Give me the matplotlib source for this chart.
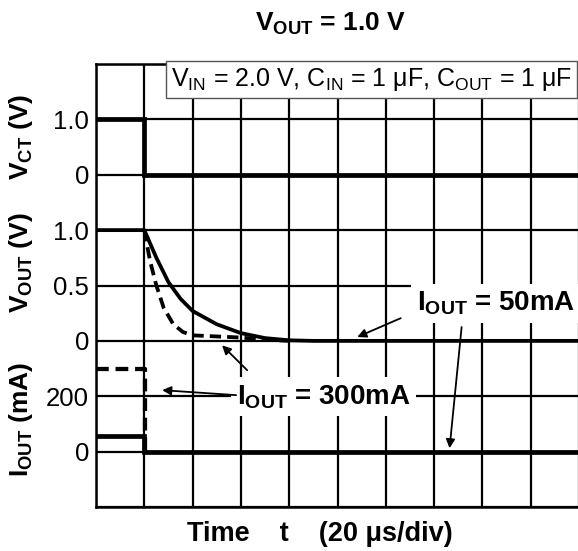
import matplotlib
matplotlib.use("Agg")
import matplotlib.pyplot as plt

plt.rcParams.update({
    "font.family": ["Liberation Sans", "DejaVu Sans"],
    "mathtext.fontset": "custom",
    "mathtext.rm": "Liberation Sans",
    "mathtext.it": "Liberation Sans:italic",
    "mathtext.bf": "Liberation Sans:bold",
    "font.size": 19,
})

# ---- data (time in divisions of 20 us) ----
vct_t = [0, 1, 1, 10]
vct_v = [1.0, 1.0, 0.0, 0.0]

vout50_t = [0, 1.0, 1.1, 1.25, 1.5, 1.75, 2.0, 2.5, 3.0, 3.5, 4.0, 4.5, 10]
vout50_v = [1.0, 1.0, 0.90, 0.75, 0.53, 0.38, 0.27, 0.15, 0.07, 0.025, 0.005, 0.0, 0.0]

vout300_t = [1.0, 1.05, 1.12, 1.25, 1.4, 1.6, 1.8, 2.0, 2.5, 3.0, 3.5, 4.0]
vout300_v = [1.0, 0.88, 0.72, 0.50, 0.30, 0.15, 0.08, 0.05, 0.04, 0.03, 0.01, 0.0]

iout50_t = [0, 1, 1, 10]
iout50_i = [55, 55, 0, 0]
iout300_t = [0, 1.02, 1.02]
iout300_i = [300, 300, 0]

vct_ticks = [1.0, 0]
vout_ticks = [1.0, 0.5, 0]
iout_ticks = [200, 0]


# each trace gets its own band of rows on one shared grid
def y_vct(v): return [6 + a for a in v]
def y_vout(v): return [3 + 2 * a for a in v]
def y_iout(i): return [1 + a / 200 for a in i]


fig = plt.figure(figsize=(5.78, 5.51), dpi=100)
ax = fig.add_axes([96 / 578, 1 - 507 / 551, 483 / 578, 443 / 551])
ax.set_xlim(0, 10)
ax.set_ylim(0, 8)

ax.set_xticks(range(11))
ax.set_xticklabels([])
ytk = y_vct(vct_ticks) + y_vout(vout_ticks) + y_iout(iout_ticks)
ylb = ["1.0", "0", "1.0", "0.5", "0", "200", "0"]
ax.set_yticks(ytk)
ax.set_yticklabels(ylb)
ax.set_yticks(range(9), minor=True)
ax.tick_params(which="both", length=0, pad=5, labelsize=18.5)
ax.grid(True, which="both", color="k", lw=1.6)
ax.set_axisbelow(True)
for s in ax.spines.values():
    s.set_linewidth(1.8)

lw = 3.4
ax.plot(vct_t, y_vct(vct_v), color="k", lw=lw, solid_joinstyle="miter", zorder=3)
ax.plot(vout50_t, y_vout(vout50_v), color="k", lw=lw * 0.8, zorder=3)
ax.plot(vout300_t, y_vout(vout300_v), color="k", lw=lw * 0.8, ls=(0, (3, 1.6)), zorder=3)
ax.plot(iout50_t, y_iout(iout50_i), color="k", lw=lw, solid_joinstyle="miter", zorder=3)
ax.plot(iout300_t, y_iout(iout300_i), color="k", lw=lw * 0.9, ls=(0, (3, 1.6)), zorder=3)

# labels with white boxes over the grid
box = dict(facecolor="white", edgecolor="none", pad=4)
ax.text(8.28, 3.68, r"I$_{\mathbf{OUT}}$ = 50mA", ha="center", va="center",
        fontsize=20, fontweight="bold", bbox=box, zorder=4)
ax.text(4.71, 1.99, r"I$_{\mathbf{OUT}}$ = 300mA", ha="center", va="center",
        fontsize=20, fontweight="bold", bbox=box, zorder=4)

arr = dict(arrowstyle="-|>", color="k", lw=1.3, mutation_scale=13, shrinkA=0, shrinkB=0)
ax.annotate("", xy=(5.41, 3.07), xytext=(6.31, 3.41), arrowprops=arr, zorder=5)
ax.annotate("", xy=(7.32, 1.06), xytext=(7.57, 3.25), arrowprops=arr, zorder=5)
ax.annotate("", xy=(1.37, 2.11), xytext=(2.90, 2.02), arrowprops=arr, zorder=5)
ax.annotate("", xy=(2.61, 2.92), xytext=(3.13, 2.47), arrowprops=arr, zorder=5)

ax.text(0.986, 0.995, r"V$_{\mathrm{IN}}$ = 2.0 V, C$_{\mathrm{IN}}$ = 1 μF, C$_{\mathrm{OUT}}$ = 1 μF",
        transform=ax.transAxes, ha="right", va="top", fontsize=18,
        bbox=dict(facecolor="white", edgecolor="#555555", lw=1.0, pad=3.5), zorder=6, clip_on=False)

fig.text(330 / 578, 1 - 24 / 551, r"V$_{\mathbf{OUT}}$ = 1.0 V", ha="center", va="center",
         fontsize=19, fontweight="bold")
fig.text(320 / 578, 1 - 534 / 551, "Time    t    (20 μs/div)", ha="center", va="center",
         fontsize=19.5, fontweight="bold")
fig.text(21 / 578, 1 - 137 / 551, r"V$_{\mathbf{CT}}$ (V)", ha="center", va="center",
         rotation=90, fontsize=19, fontweight="bold")
fig.text(21 / 578, 1 - 263 / 551, r"V$_{\mathbf{OUT}}$ (V)", ha="center", va="center",
         rotation=90, fontsize=19, fontweight="bold")
fig.text(21 / 578, 1 - 419 / 551, r"I$_{\mathbf{OUT}}$ (mA)", ha="center", va="center",
         rotation=90, fontsize=19, fontweight="bold")

fig.savefig("out.png", dpi=100)
